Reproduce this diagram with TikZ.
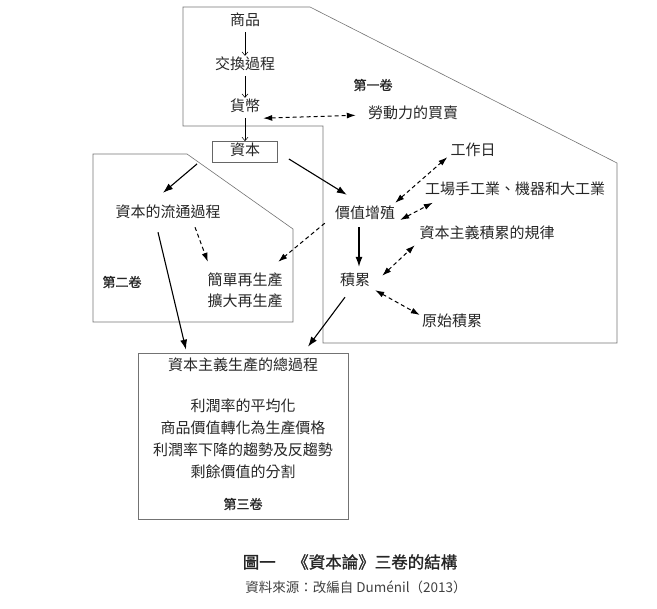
\documentclass[tikz,border=0pt]{standalone}
\usepackage{fontspec}
\newfontfamily\cjk{Noto Sans CJK TC}
\newfontfamily\cjkheavy[FakeBold=1.2]{Noto Sans CJK TC}
\usetikzlibrary{arrows.meta,positioning}
\tikzset{
  txt/.style={inner sep=3pt, text height=11pt, text depth=3pt, font=\cjk\fontsize{15}{18}\selectfont, text=black!85},
  vollabel/.style={inner sep=2pt, font=\cjkheavy\fontsize{13}{15}\selectfont, text=black!85},
  capbox/.style={txt, draw=black!60, line width=0.8pt, minimum width=65pt, minimum height=21pt},
  volframe/.style={draw=black!55, line width=0.6pt},
  thinarrow/.style={-{Straight Barb[length=3.5pt,width=6pt]}, line width=0.5pt},
  thickarrow/.style={-{Latex[length=10pt,width=7pt]}, line width=1.1pt},
  dasharrow/.style={-{Latex[length=9pt,width=6pt]}, line width=1pt, dash pattern=on 4pt off 3pt},
  dashboth/.style={{Latex[length=9pt,width=6pt]}-{Latex[length=9pt,width=6pt]}, line width=1pt, dash pattern=on 4pt off 3pt}
}

\begin{document}
\begin{tikzpicture}[x=1pt,y=-1pt]
\useasboundingbox (0,0) rectangle (657,609);
% frames of the three volumes
\draw[volframe] (183,7) -- (310,7) -- (617,163) -- (617,343) -- (323,343) -- (323,126) -- (183,126) -- cycle;
\draw[volframe] (93,154) -- (187,154) -- (293,229) -- (293,322) -- (93,322) -- cycle;
\node[volframe, minimum width=210pt, minimum height=166pt] (vol3) at (243,436) {};

\node[txt] (commodity) at (245,22) {商品};
\node[txt] (exchange) at (245,66) {交換過程};
\node[txt] (money) at (245,108) {貨幣};
\node[txt] (labour) at (413,115) {勞動力的買賣};
\node[capbox] (capital) at (245,152) {資本};
\node[vollabel] (vol1label) at (373,85) {第一卷};
\node[txt] (workday) at (473,152) {工作日};
\node[txt] (industry) at (515,191) {工場手工業、機器和大工業};
\node[txt] (valorize) at (365,215) {價值增殖};
\node[txt] (accumlaw) at (487,235) {資本主義積累的規律};
\node[txt] (accum) at (355,282) {積累};
\node[txt] (primitive) at (452,323) {原始積累};

\node[txt] (circulation) at (168,214) {資本的流通過程};
\node[vollabel] (vol2label) at (122,282) {第二卷};
\node[txt] (simple) at (245,282) {簡單再生產};
\node[txt] (expanded) at (245,303) {擴大再生產};

\node[txt] (totalproc) at (243,367) {資本主義生產的總過程};
\node[txt] (avgrate) at (243,408) {利潤率的平均化};
\node[txt] (prodprice) at (243,430) {商品價值轉化為生產價格};
\node[txt] (fallrate) at (243,452) {利潤率下降的趨勢及反趨勢};
\node[txt] (division) at (243,474) {剩餘價值的分割};
\node[vollabel] (vol3label) at (243,504) {第三卷};

\node[font=\cjkheavy\fontsize{16.5}{20}\selectfont, text=black!85] (caption) at (350,562) {圖一　《資本論》三卷的結構};
\node[font=\cjk\fontsize{13.5}{16}\selectfont, text=black!75] (source) at (356,587) {資料來源：改編自 Duménil（2013）};

% connectors
\draw[thinarrow] (commodity) -- (exchange);
\draw[thinarrow] (exchange) -- (money);
\draw[thinarrow] (money) -- (capital);
\draw[dashboth, shorten >=9pt] (money.south east) -- (labour.west);
\draw[thickarrow] ([shift={(-15,1)}]capital.south west) -- ([shift={(-5,-11)}]circulation.north);
\draw[thickarrow] ([shift={(11,7)}]capital.east) -- ([shift={(15,-10)}]valorize.north west);
\draw[thickarrow] ([shift={(-6,2)}]valorize.south) -- ([shift={(4,-5)}]accum.north);
\draw[thickarrow] ([shift={(-10,5)}]accum.south) -- ([shift={(65,-6)}]vol3.north);
\draw[thickarrow] ([shift={(-10,8)}]circulation.south) -- ([shift={(-57,-3)}]vol3.north);
\draw[dasharrow] ([shift={(27,3)}]circulation.south) -- ([shift={(3.5,-10)}]simple.north west);
\draw[dasharrow] ([shift={(-7,-2)}]valorize.south west) -- ([shift={(-7.5,-10)}]simple.north east);
\draw[dashboth] ([shift={(-3,-2)}]valorize.north east) -- ([shift={(0,-5)}]workday.south west);
\draw[dashboth] ([shift={(2,5)}]valorize.east) -- ([shift={(11,1.5)}]industry.south west);
\draw[dashboth] ([shift={(9,4)}]accum.north east) -- ([shift={(-1.5,0)}]accumlaw.south west);
\draw[dashboth] ([shift={(2,-2)}]accum.south east) -- ([shift={(1,-8)}]primitive.west);
\end{tikzpicture}
\end{document}
